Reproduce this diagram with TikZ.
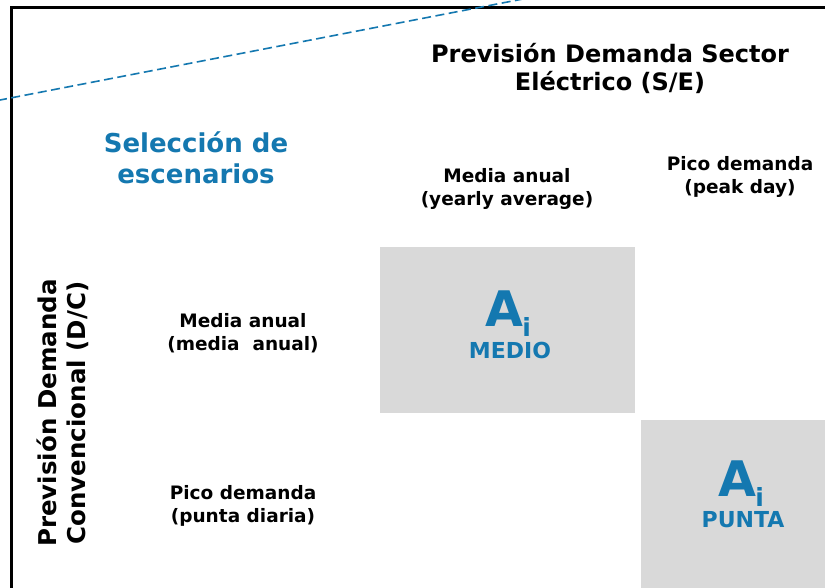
\documentclass[tikz,border=0pt]{standalone}
\usepackage{fontspec}
\setmainfont{DejaVu Sans}
\definecolor{accent}{HTML}{1478B0}
\definecolor{cellgrey}{HTML}{D9D9D9}
\tikzset{
  lbl/.style={font=\bfseries\fontsize{18.5}{23}\selectfont, align=center, inner sep=0pt, anchor=base},
  head/.style={font=\bfseries\fontsize{24}{28}\selectfont, align=center, inner sep=0pt, anchor=base},
  cell/.style={fill=cellgrey, draw=none},
  bigA/.style={font=\bfseries\fontsize{49}{49}\selectfont, text=accent, inner sep=0pt, anchor=base},
  subi/.style={font=\bfseries\fontsize{25}{25}\selectfont, text=accent, inner sep=0pt, anchor=base west},
  tag/.style={font=\bfseries\fontsize{22}{22}\selectfont, text=accent, inner sep=0pt, anchor=base},
}
\begin{document}
\begin{tikzpicture}[x=1pt,y=-1pt]
\useasboundingbox (0,0) rectangle (825,587);
\fill[white] (0,0) rectangle (825,587);
% frame
\draw[line width=2.2pt] (11.5,620) -- (11.5,7.5) -- (860,7.5);
% grey cells
\fill[cell] (380,247) rectangle (635,413);
\fill[cell] (641,420) rectangle (830,600);
% dashed diagonal
\coordinate (dA) at (-2,100.4);
\coordinate (dB) at (525,-1.4);
\draw[accent, line width=1.6pt, dash pattern=on 9pt off 4.5pt] (dA) -- (dB);
% headings
\node[head] (se) at (610,90) {Previsión Demanda Sector\\Eléctrico (S/E)};
\node[head, text=accent, font=\bfseries\fontsize{26}{31}\selectfont] (sel) at (196,183) {Selección de\\escenarios};
\node[head, rotate=90, font=\bfseries\fontsize{24.5}{29}\selectfont] (dc) at (85,413) {Previsión Demanda\\Convencional (D/C)};
% column labels
\node[lbl] (c1) at (507,205) {Media anual\\(yearly average)};
\node[lbl] (c2) at (740,193) {Pico demanda\\(peak day)};
% row labels
\node[lbl] (r1) at (243,350) {Media anual\\(media\ \ anual)};
\node[lbl] (r2) at (243,522) {Pico demanda\\(punta diaria)};
% cell contents
\node[bigA] (a1) at (504,326) {A};
\node[subi] (i1) at (a1.base east) [xshift=-1pt, yshift=-10pt] {i};
\node[tag] (m1) at (510,358) {MEDIO};
\node[bigA] (a2) at (737,496) {A};
\node[subi] (i2) at (a2.base east) [xshift=-1pt, yshift=-10pt] {i};
\node[tag] (m2) at (743,527) {PUNTA};
\end{tikzpicture}
\end{document}
